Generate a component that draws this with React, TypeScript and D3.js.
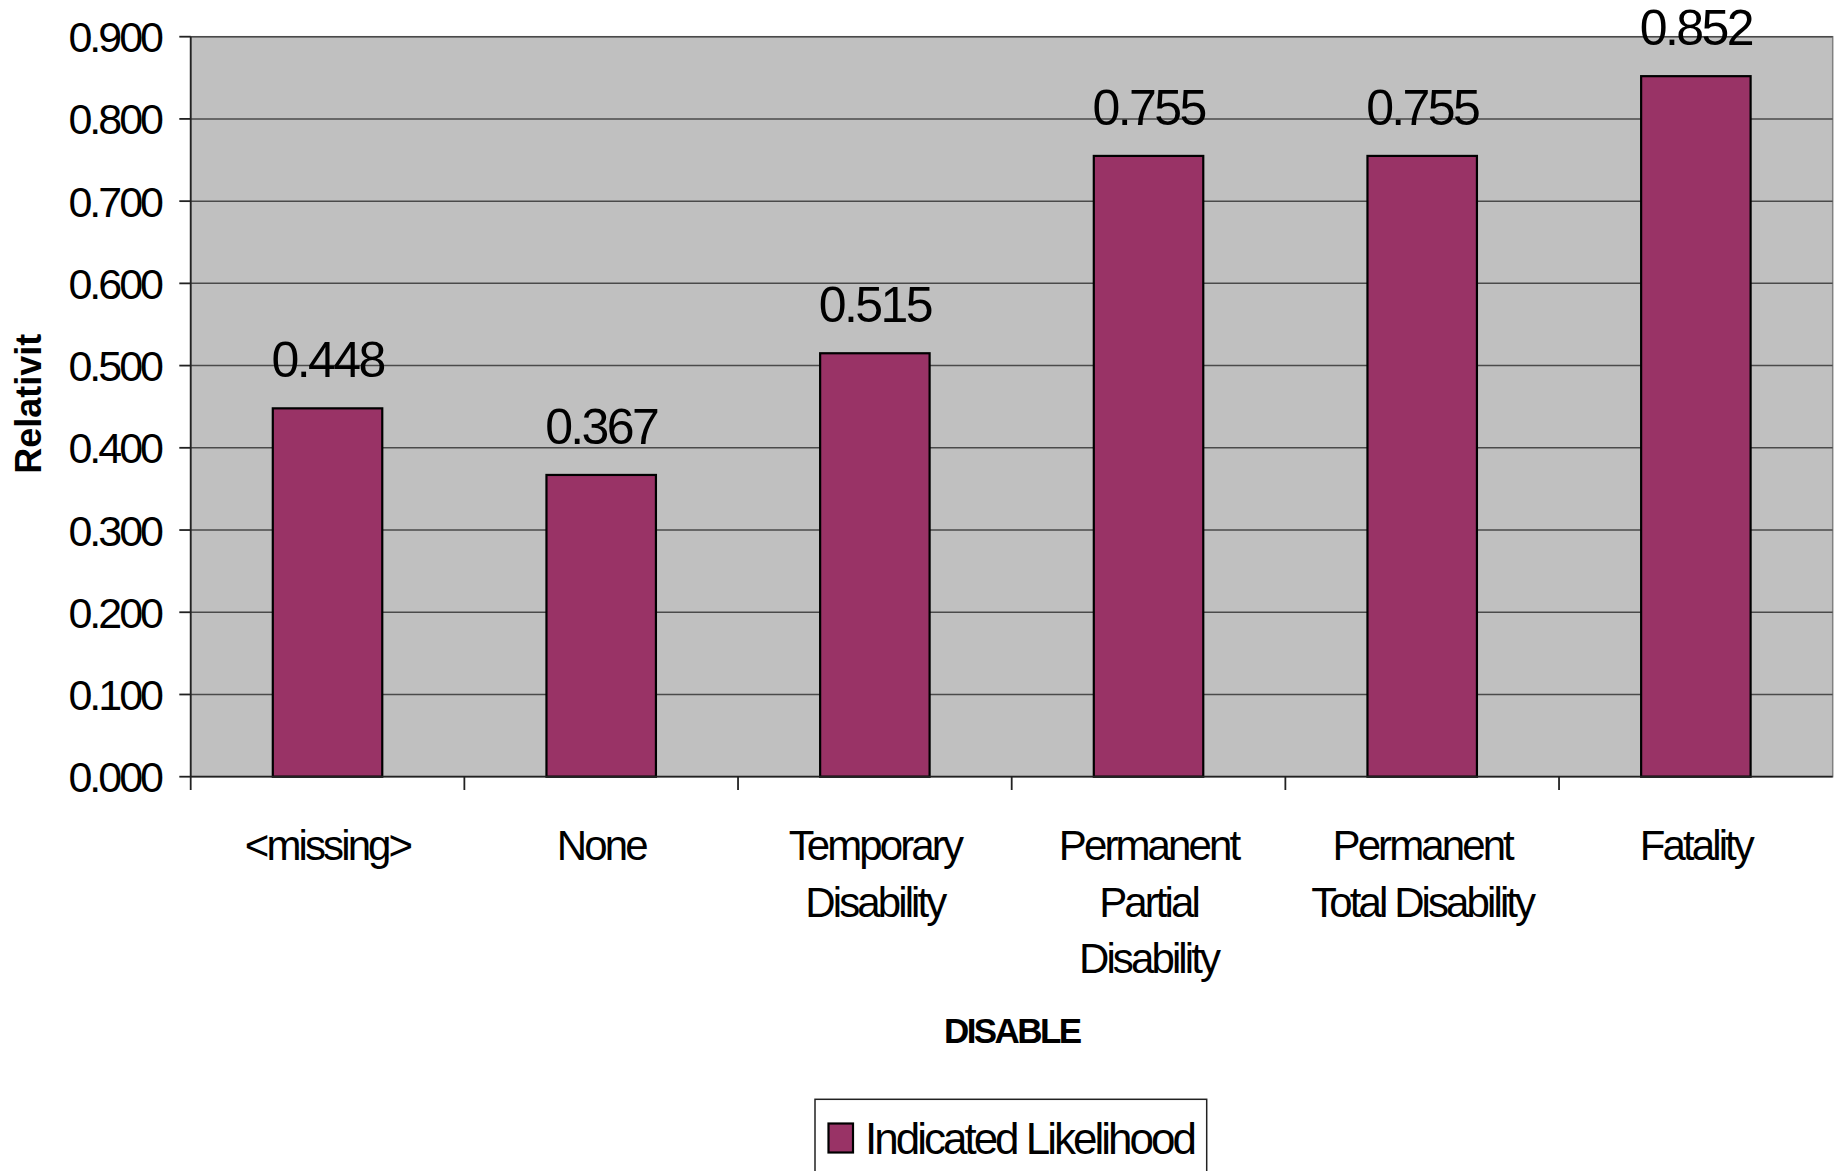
import React from "react";
import * as d3 from "d3";

const categories: string[][] = [
  ["<missing>"],
  ["None"],
  ["Temporary", "Disability"],
  ["Permanent", "Partial", "Disability"],
  ["Permanent", "Total Disability"],
  ["Fatality"],
];
const values: number[] = [0.448, 0.367, 0.515, 0.755, 0.755, 0.852];
const yTicks: number[] = [0, 0.1, 0.2, 0.3, 0.4, 0.5, 0.6, 0.7, 0.8, 0.9];
const seriesName = "Indicated Likelihood";
const xTitle = "DISABLE";
const yTitle = "Relativit";

const W = 1839;
const H = 1171;
const plot = { left: 190.7, right: 1832.7, top: 36.7, bottom: 776.7 };
const FONT = "'Liberation Sans', Arial, sans-serif";
const BAR = "#993366";

export default function App() {
  const keys = categories.map((_, i) => String(i));
  const x = d3
    .scaleBand<string>()
    .domain(keys)
    .range([plot.left, plot.right])
    .paddingInner(0.6)
    .paddingOuter(0.3);
  const band = d3.scaleBand<string>().domain(keys).range([plot.left, plot.right]);
  const y = d3.scaleLinear().domain([0, 0.9]).range([plot.bottom, plot.top]);
  const fmt = d3.format(".3f");

  return (
    <svg
      width={W}
      height={H}
      style={{ position: "absolute", left: 0, top: 0, display: "block", background: "#fff" }}
    >
      {/* plot background */}
      <rect
        x={plot.left}
        y={plot.top}
        width={plot.right - plot.left}
        height={plot.bottom - plot.top}
        fill="#C0C0C0"
        stroke="#808080"
        strokeWidth={1.5}
      />
      {/* gridlines */}
      {yTicks.slice(1).map((t) => (
        <line
          key={"g" + t}
          x1={plot.left}
          x2={plot.right}
          y1={y(t)}
          y2={y(t)}
          stroke="#4a4a4a"
          strokeWidth={1.5}
        />
      ))}
      {/* bars */}
      {values.map((v, i) => (
        <rect
          key={"b" + i}
          x={x(String(i))}
          y={y(v)}
          width={x.bandwidth()}
          height={y(0) - y(v)}
          fill={BAR}
          stroke="#000"
          strokeWidth={2.2}
        />
      ))}
      {/* value labels */}
      {values.map((v, i) => (
        <text
          key={"v" + i}
          x={(x(String(i)) as number) + x.bandwidth() / 2}
          y={y(v) - 31}
          textAnchor="middle"
          fontFamily={FONT}
          fontSize={50}
          letterSpacing={-2.6}
          fill="#000"
        >
          {fmt(v)}
        </text>
      ))}
      {/* y axis */}
      <line x1={plot.left} x2={plot.left} y1={plot.top} y2={790} stroke="#222" strokeWidth={1.8} />
      {yTicks.map((t) => (
        <g key={"t" + t}>
          <line x1={179.3} x2={plot.left} y1={y(t)} y2={y(t)} stroke="#222" strokeWidth={1.8} />
          <text
            x={161}
            y={y(t) + 15.5}
            textAnchor="end"
            fontFamily={FONT}
            fontSize={43}
            letterSpacing={-3}
            fill="#000"
          >
            {fmt(t)}
          </text>
        </g>
      ))}
      {/* x axis */}
      <line x1={plot.left} x2={plot.right} y1={plot.bottom} y2={plot.bottom} stroke="#222" strokeWidth={1.8} />
      {keys.slice(1).map((k) => (
        <line
          key={"xt" + k}
          x1={band(k)}
          x2={band(k)}
          y1={plot.bottom}
          y2={790}
          stroke="#222"
          strokeWidth={1.8}
        />
      ))}
      {categories.map((lines, i) => (
        <text
          key={"c" + i}
          textAnchor="middle"
          fontFamily={FONT}
          fontSize={42}
          letterSpacing={-2.9}
          fill="#000"
        >
          {lines.map((ln, j) => (
            <tspan
              key={j}
              x={(band(String(i)) as number) + band.bandwidth() / 2}
              y={860 + j * 56.7}
            >
              {ln}
            </tspan>
          ))}
        </text>
      ))}
      {/* axis titles */}
      <text
        x={(plot.left + plot.right) / 2}
        y={1043.3}
        textAnchor="middle"
        fontFamily={FONT}
        fontWeight="bold"
        fontSize={35}
        letterSpacing={-2.6}
        fill="#000"
      >
        {xTitle}
      </text>
      <text
        transform={`translate(40.5, ${(plot.top + plot.bottom) / 2 - 3}) rotate(-90)`}
        textAnchor="middle"
        fontFamily={FONT}
        fontWeight="bold"
        fontSize={36}
        fill="#000"
      >
        {yTitle}
      </text>
      {/* legend */}
      <rect x={815} y={1099.3} width={391.7} height={90} fill="#fff" stroke="#222" strokeWidth={1.5} />
      <rect x={828.5} y={1123.5} width={24.5} height={29} fill={BAR} stroke="#000" strokeWidth={2.2} />
      <text x={865} y={1154} fontFamily={FONT} fontSize={44} letterSpacing={-3.0} fill="#000">
        {seriesName}
      </text>
    </svg>
  );
}
